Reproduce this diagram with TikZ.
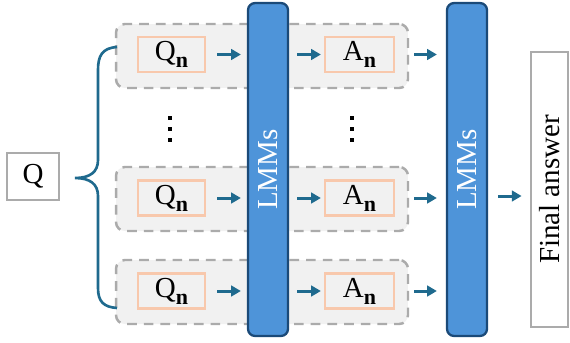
\documentclass[tikz,border=0pt]{standalone}
\usepackage{fontspec}
\setmainfont{Liberation Serif}
\usepackage{tikz}
\usetikzlibrary{arrows.meta, calc}

\definecolor{arrowblue}{HTML}{1F6A8E}
\definecolor{lmmfill}{HTML}{4E94D9}
\definecolor{lmmdraw}{HTML}{1B4A78}
\definecolor{rowfill}{HTML}{F1F1F1}
\definecolor{rowdraw}{HTML}{ABABAB}
\definecolor{boxorange}{HTML}{F8C8AC}

\newcommand{\subn}{\raisebox{-4pt}{\fontsize{12.5}{12}\selectfont\bfseries n}}

\begin{document}
\begin{tikzpicture}[x=0.02cm, y=-0.02cm,
        font=\fontsize{16.5}{20}\selectfont,
        rowbox/.style={draw=rowdraw, fill=rowfill, line width=1.4pt, dash pattern=on 5.5pt off 4pt,
            rounded corners=5pt, minimum width=5.84cm, minimum height=1.28cm},
        itembox/.style={draw=boxorange, line width=1.3pt, minimum height=0.7cm, inner sep=0pt},
        lmmbar/.style={draw=lmmdraw, fill=lmmfill, line width=1.3pt, rounded corners=4pt,
            minimum width=0.8cm, minimum height=6.66cm, text=white},
        graybox/.style={draw=rowdraw, line width=1.6pt, fill=white, inner sep=0pt},
        arr/.style={-{Triangle[length=5.5pt, width=6pt]}, line width=1.7pt, arrowblue}]
    \useasboundingbox (0,0) rectangle (570,342);

    % Input question
    \node[graybox, minimum width=1.04cm, minimum height=0.94cm] (q) at (33,176.5) {Q};

    % Rows of sub-questions and answers
    \node[rowbox] (row1) at (262,56) {};
    \node[rowbox] (row2) at (262,199) {};
    \node[rowbox] (row3) at (262,292) {};

    \node[itembox, minimum width=1.34cm] (qn1) at (171.5,54.5) {Q\subn};
    \node[itembox, minimum width=1.34cm] (qn2) at (171.5,198) {Q\subn};
    \node[itembox, minimum width=1.34cm] (qn3) at (171.5,291) {Q\subn};

    \node[itembox, minimum width=1.38cm] (an1) at (359.5,54.5) {A\subn};
    \node[itembox, minimum width=1.38cm] (an2) at (359.5,198) {A\subn};
    \node[itembox, minimum width=1.38cm] (an3) at (359.5,291) {A\subn};

    % Vertical dots
    \foreach \x in {170,352}
        \foreach \y in {118,129,140}
            \fill (\x-2.2,\y-2.2) rectangle (\x+2.2,\y+2.2);

    % Models
    \node[lmmbar] (lmm1) at (268,169.5) {\rotatebox{90}{LMMs}};
    \node[lmmbar] (lmm2) at (467,169.5) {\rotatebox{90}{LMMs}};

    % Output
    \node[graybox, minimum width=0.74cm, minimum height=5.5cm] (final) at (549.5,189.5) {\rotatebox{90}{Final answer}};

    % Brace from Q to the rows
    \coordinate (tip) at (75,178);
    \draw[arrowblue, line width=1.5pt] (117,47) .. controls (102,48) and (98,56) .. (98,70) -- (98,160)
        .. controls (98,172) and (90,178) .. (tip) .. controls (90,178) and (98,184) .. (98,196)
        -- (98,288) .. controls (98,302) and (104,307) .. (117,308);

    % Arrows
    \foreach \i in {1,2,3} {
        \draw[arr, shorten <=0.22cm, shorten >=0.12cm] (qn\i.east) -- (lmm1.west |- qn\i.east);
        \draw[arr, shorten <=0.16cm, shorten >=0.06cm] (lmm1.east |- an\i.west) -- (an\i.west);
        \draw[arr, shorten <=0.1cm, shorten >=0.18cm] (row\i.east |- an\i.east) -- (lmm2.west |- an\i.east);
    }
    \draw[arr, shorten <=0.2cm, shorten >=0.16cm] (lmm2.east |- 0,196) -- (final.west |- 0,196);
\end{tikzpicture}
\end{document}
